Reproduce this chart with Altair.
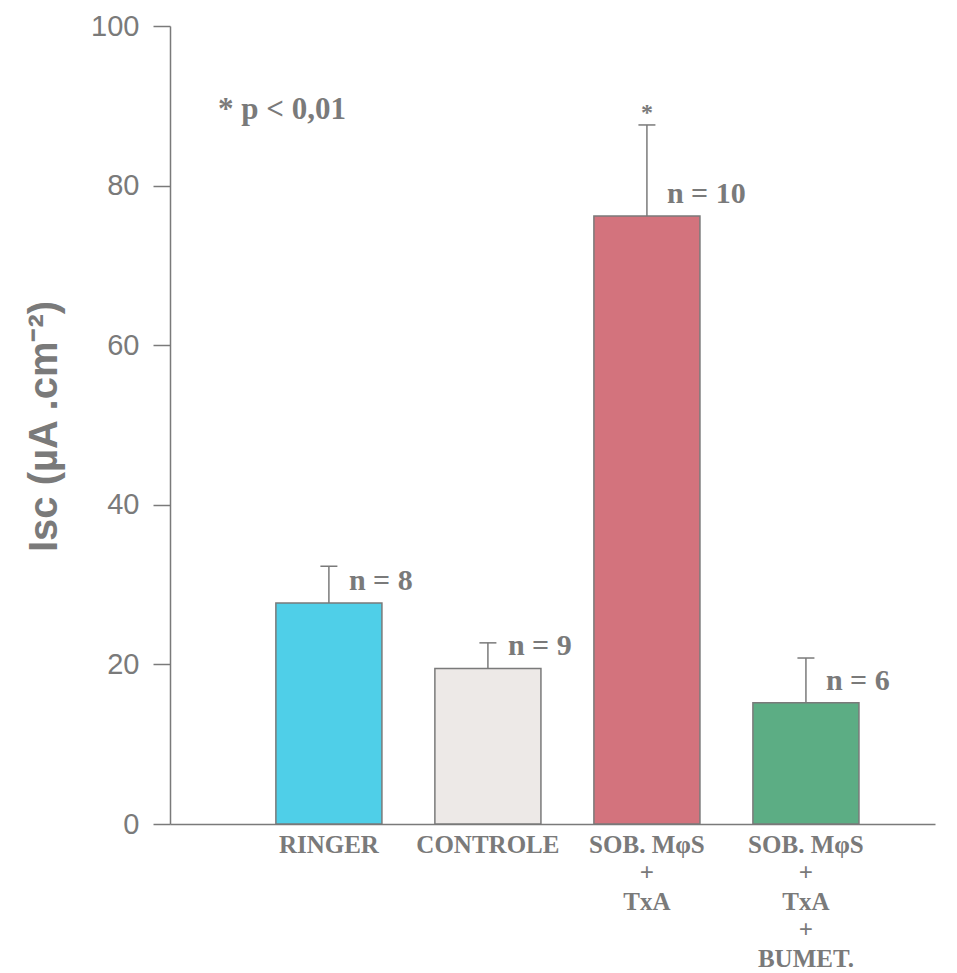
import altair as alt
import pandas as pd

# Groups (multi-line labels split on newlines), means, SEM and sample sizes
groups = ["RINGER", "CONTROLE", "SOB. M\u03c6S\n+\nTxA", "SOB. M\u03c6S\n+\nTxA\n+\nBUMET."]
means = [27.7, 19.5, 76.2, 15.2]
errors = [4.6, 3.2, 11.4, 5.6]
n_labels = ["n = 8", "n = 9", "n = 10", "n = 6"]
signif = ["", "", "*", ""]
colors = ["#4fcfe8", "#ede9e7", "#d3737d", "#5cad84"]
y_ticks = [0, 20, 40, 60, 80, 100]

GRAY = "#7a7a7a"
SERIF = "Liberation Serif"
SANS = "Liberation Sans"

df = pd.DataFrame({
    "group": groups,
    "mean": means,
    "err": errors,
    "n": n_labels,
    "sig": signif,
})
df["upper"] = df["mean"] + df["err"]

x_scale = alt.Scale(domain=groups, paddingInner=0.333, paddingOuter=0.572, align=0.582)
x_axis = alt.Axis(
    title=None,
    ticks=False,
    labelAngle=0,
    labelExpr="split(datum.label, '\\n')",
    labelFont=SERIF,
    labelFontWeight="bold",
    labelFontSize=25,
    labelColor=GRAY,
    labelLineHeight=28.5,
    labelBaseline="top",
    labelPadding=8,
    labelAlign="center",
    domainColor=GRAY,
    domainWidth=1.5,
)
y_scale = alt.Scale(domain=[0, 100], nice=False)
y_axis = alt.Axis(
    title="Isc (\u00b5A .cm\u207b\u00b2)",
    values=y_ticks,
    grid=False,
    tickSize=17,
    tickColor=GRAY,
    tickWidth=1.5,
    domainColor=GRAY,
    domainWidth=1.5,
    labelFont=SANS,
    labelFontSize=29,
    labelColor=GRAY,
    labelPadding=14,
    titleFont=SANS,
    titleFontSize=40,
    titleFontWeight="bold",
    titleColor=GRAY,
    titleAngle=-90,
    titleAlign="center",
    titleBaseline="middle",
    titleX=-126,
    titleY=400,
)

x_enc = alt.X("group:N", sort=groups, scale=x_scale, axis=x_axis)

base = alt.Chart(df)

bars = base.mark_bar(stroke=GRAY, strokeWidth=1.5).encode(
    x=x_enc,
    y=alt.Y("mean:Q", scale=y_scale, axis=y_axis),
    color=alt.Color("group:N", scale=alt.Scale(domain=groups, range=colors), legend=None),
)

err_line = base.mark_rule(color=GRAY, strokeWidth=1.5).encode(
    x=x_enc,
    y=alt.Y("mean:Q", scale=y_scale),
    y2="upper:Q",
)

err_cap = base.mark_tick(color=GRAY, thickness=1.5, size=17, opacity=1).encode(
    x=x_enc,
    y=alt.Y("upper:Q", scale=y_scale),
)

n_text = base.mark_text(
    align="left", baseline="middle", dx=20, dy=-22,
    font=SERIF, fontWeight="bold", fontSize=30, color=GRAY,
).encode(
    x=x_enc,
    y=alt.Y("mean:Q", scale=y_scale),
    text="n:N",
)

star_text = base.mark_text(
    align="center", baseline="middle", dy=-12,
    font=SERIF, fontWeight="bold", fontSize=24, color=GRAY,
).encode(
    x=x_enc,
    y=alt.Y("upper:Q", scale=y_scale),
    text="sig:N",
)

note = alt.Chart(pd.DataFrame({"t": ["* p < 0,01"]})).mark_text(
    align="left", baseline="middle",
    font=SERIF, fontWeight="bold", fontSize=31, color=GRAY,
).encode(
    x=alt.value(48),
    y=alt.value(84),
    text="t:N",
)

chart = alt.layer(bars, err_line, err_cap, n_text, star_text, note).properties(
    width=765,
    height=798,
    autosize=alt.AutoSizeParams(type="none"),
    padding={"left": 170, "top": 26, "right": 22, "bottom": 149},
    background="white",
).configure_view(stroke=None)

chart.save("out.html", embed_options={"renderer": "svg", "actions": False})
